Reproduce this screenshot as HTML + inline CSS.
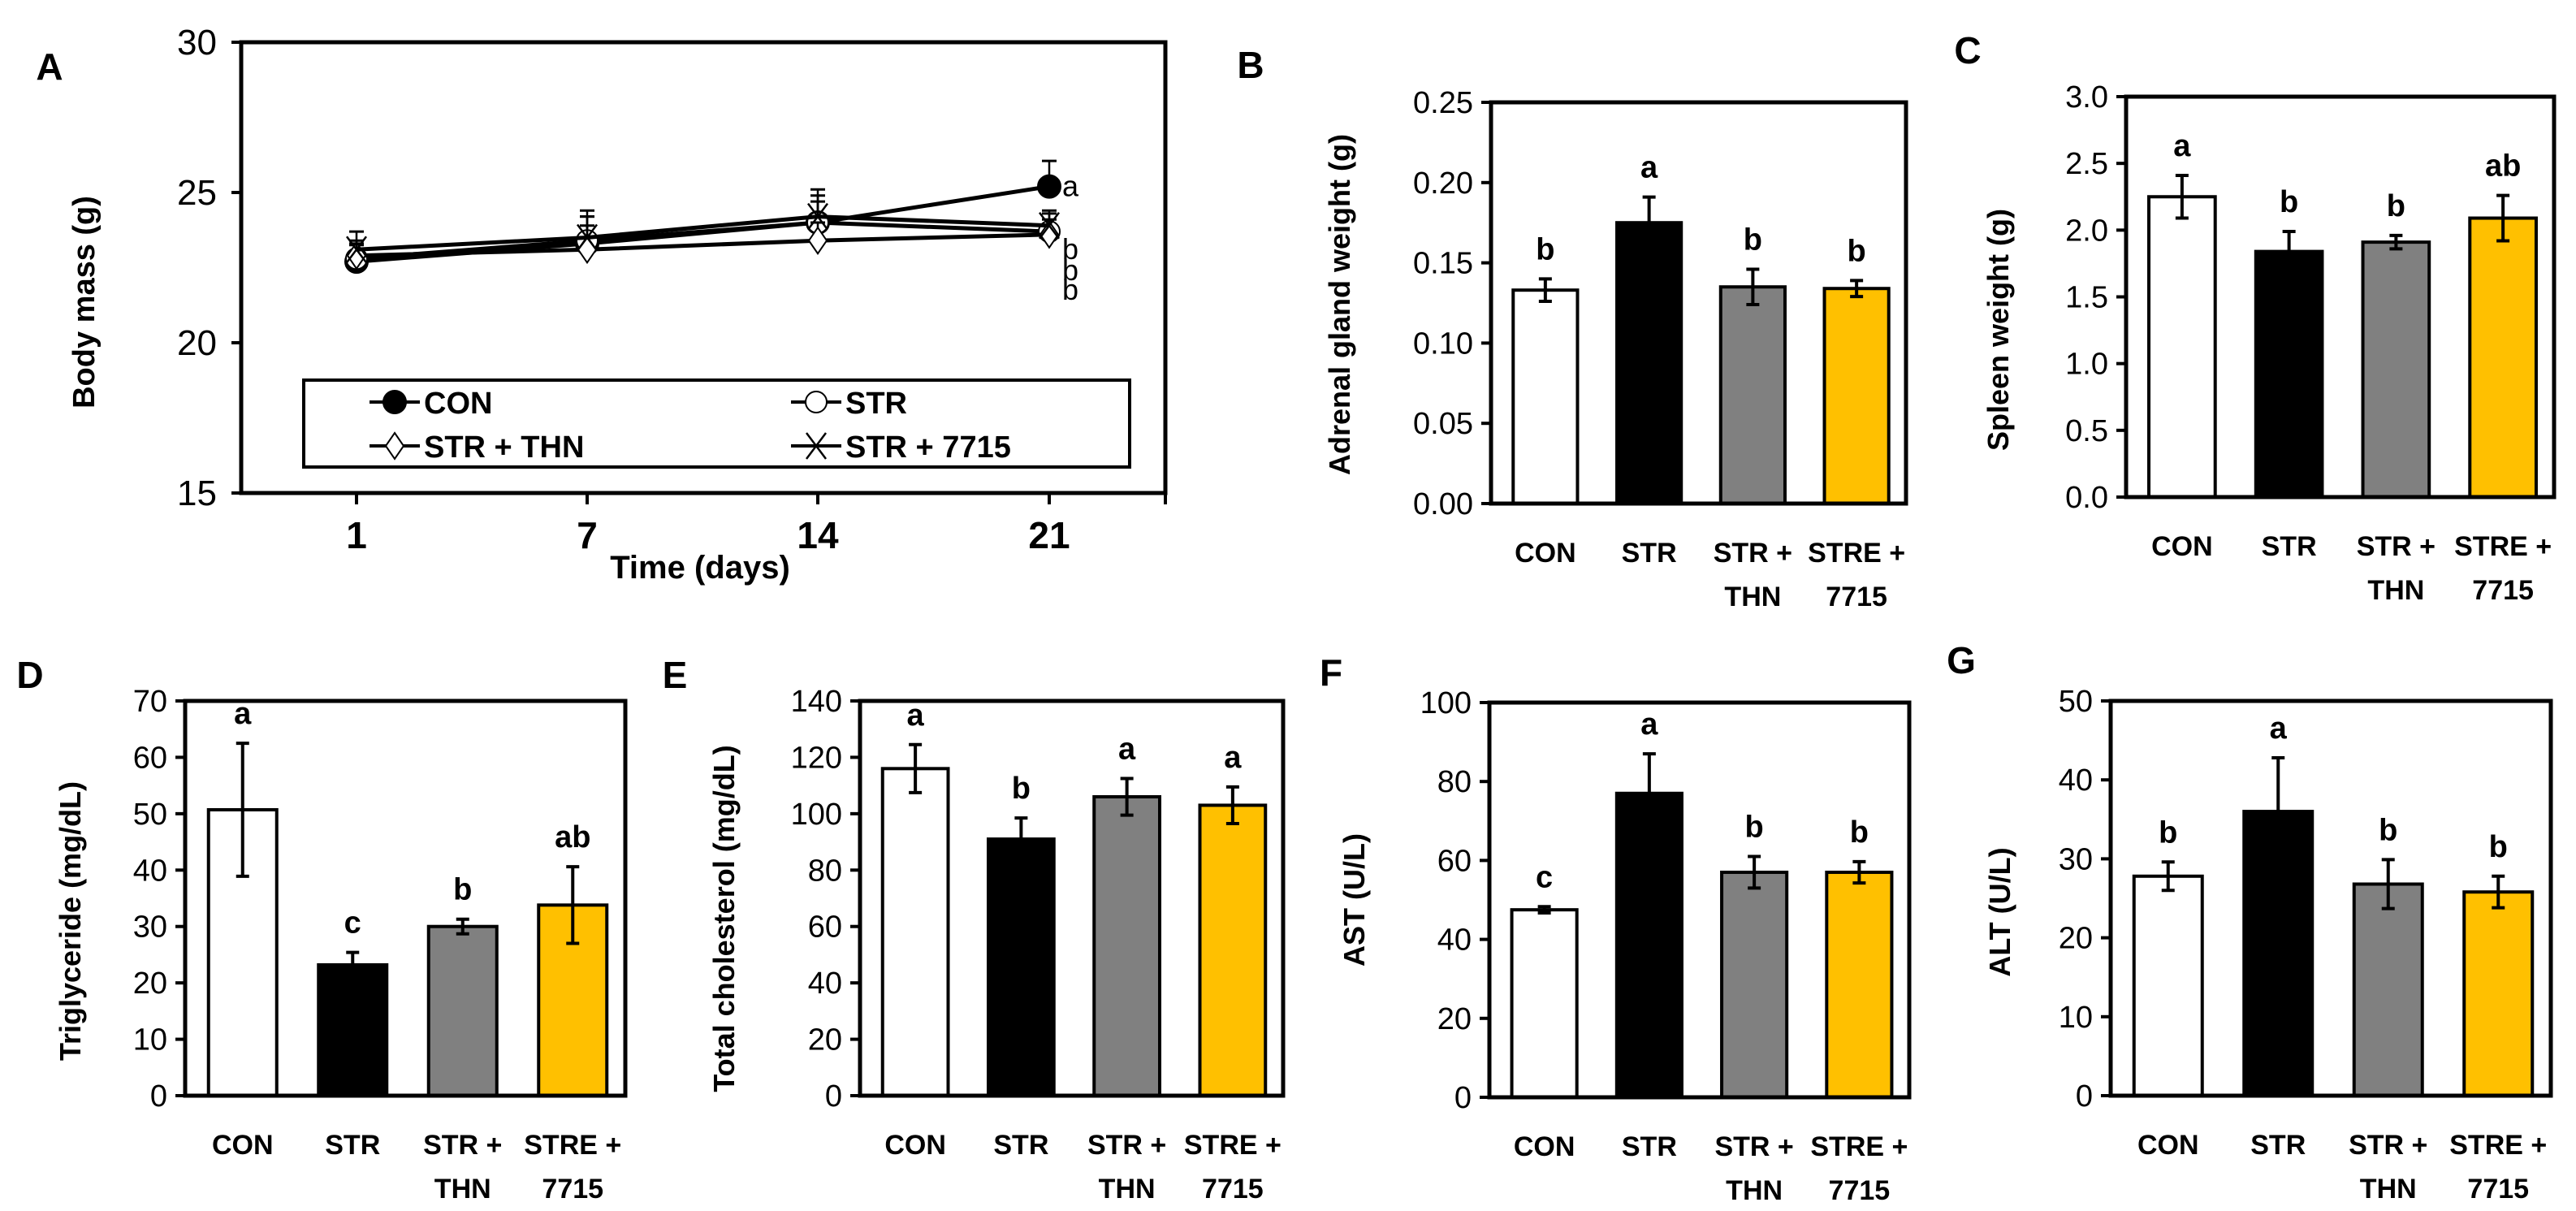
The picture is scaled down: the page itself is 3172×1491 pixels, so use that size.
<!DOCTYPE html>
<html><head><meta charset="utf-8">
<style>
html,body{margin:0;padding:0;background:#fff;}
svg{display:block;font-family:"Liberation Sans",Arial,sans-serif;}
</style></head>
<body>
<svg id="fig" width="3172" height="1491" viewBox="0 0 3172 1491" xmlns="http://www.w3.org/2000/svg"></svg>
<script>
// ---------- Panel A data ----------
const aDays = [1, 7, 14, 21];
const aTickLabels = ["15", "20", "25", "30"];
const aSeriesNames = ["CON", "STR", "STR + THN", "STR + 7715"];
const aCON = [22.7, 23.3, 24.0, 25.2];
const aSTR = [22.8, 23.4, 24.0, 23.7];
const aTHN = [22.9, 23.1, 23.4, 23.6];
const a7715 = [23.1, 23.5, 24.2, 23.9];
const aErrCON = [0.55, 0.9, 0.9, 0.85];
const aErrSTR = [0.5, 0.8, 0.7, 0.6];
const aErrTHN = [0.5, 0.8, 0.6, 0.5];
const aErr7715 = [0.6, 0.9, 0.9, 0.5];
const aLetters = ["a", "b", "b", "b"];

// ---------- Bar panel data ----------
const barCatsTop = ["CON", "STR", "STR +", "STRE +"];
const barCatsBottom = ["", "", "THN", "7715"];
const bValues = [0.133, 0.175, 0.135, 0.134];
const bErrors = [0.007, 0.016, 0.011, 0.005];
const bLetters = ["b", "a", "b", "b"];
const cValues = [2.25, 1.84, 1.91, 2.09];
const cErrors = [0.16, 0.15, 0.05, 0.17];
const cLetters = ["a", "b", "b", "ab"];
const dValues = [50.7, 23.2, 30.0, 33.8];
const dErrors = [11.8, 2.2, 1.3, 6.8];
const dLetters = ["a", "c", "b", "ab"];
const eValues = [116, 91, 106, 103];
const eErrors = [8.5, 7.5, 6.5, 6.5];
const eLetters = ["a", "b", "a", "a"];
const fValues = [47.5, 77, 57, 57];
const fErrors = [0.8, 10, 4, 2.7];
const fLetters = ["c", "a", "b", "b"];
const gValues = [27.8, 36, 26.8, 25.8];
const gErrors = [1.8, 6.8, 3.1, 2.0];
const gLetters = ["b", "a", "b", "b"];
const barFills = ["#ffffff", "#000000", "#808080", "#ffc000"];

const NS = "http://www.w3.org/2000/svg";
const fig = document.getElementById("fig");
function mk(tag, attrs, parent) {
  const e = document.createElementNS(NS, tag);
  for (const k in attrs) e.setAttribute(k, attrs[k]);
  (parent || fig).appendChild(e);
  return e;
}
function txt(str, x, y, size, weight, anchor, parent) {
  const t = mk("text", {x: x, y: y, "font-size": size, "font-weight": weight, "text-anchor": anchor, fill: "#000"}, parent);
  t.textContent = str;
  return t;
}

// ---------- Panel A ----------
(function () {
  const g = mk("g", {});
  
  
  const L = 297, R = 1435, T = 52, B = 607, ymin = 15, ymax = 30;
  const xPos = [439, 723, 1007, 1292];
  const ys = v => B - (v - ymin) / (ymax - ymin) * (B - T);
  const xs = i => xPos[i];
  const lbl = txt("A", 61, 98, 46, "bold", "middle", g);
  
  
  const box = mk("rect", {x: L, y: T, width: R - L, height: B - T, fill: "none", stroke: "#000", "stroke-width": 5}, g);
  
  
  aTickLabels.forEach((s, i) => {
    const v = ymin + i * 5, y = ys(v);
    mk("line", {x1: L - 12, x2: L, y1: y, y2: y, stroke: "#000", "stroke-width": 4}, g);
    const t = txt(s, L - 30, y + 15, 44, "normal", "end", g);
    
    
  });
  aDays.forEach((d, i) => {
    mk("line", {x1: xs(i), x2: xs(i), y1: B, y2: B + 14, stroke: "#000", "stroke-width": 4}, g);
    const t = txt(String(d), xs(i), B + 68, 46, "bold", "middle", g);
    
    
  });
  mk("line", {x1: R, x2: R, y1: B, y2: B + 14, stroke: "#000", "stroke-width": 4}, g);
  const xt = txt("Time (days)", 862, 712, 40, "bold", "middle", g);
  
  
  const yt = txt("Body mass (g)", 0, 0, 38, "bold", "middle", g);
  yt.setAttribute("transform", "translate(116,372) rotate(-90)");
  
  

  const series = [aCON, aSTR, aTHN, a7715];
  const errs = [aErrCON, aErrSTR, aErrTHN, aErr7715];
  function marker(kind, x, y, parent) {
    if (kind === 0) return mk("circle", {cx: x, cy: y, r: 14, fill: "#000", stroke: "#000", "stroke-width": 2}, parent);
    if (kind === 1) return mk("circle", {cx: x, cy: y, r: 13, fill: "#fff", stroke: "#000", "stroke-width": 2}, parent);
    if (kind === 2) return mk("polygon", {points: `${x},${y-16} ${x+11},${y} ${x},${y+16} ${x-11},${y}`, fill: "#fff", stroke: "#000", "stroke-width": 2}, parent);
    const m = mk("path", {d: `M${x-12} ${y-16}L${x+12} ${y+16}M${x+12} ${y-16}L${x-12} ${y+16}`, stroke: "#000", "stroke-width": 2.5, fill: "none"}, parent);
    return m;
  }
  series.forEach((vals, s) => {
    const sg = mk("g", {}, g);
    
    
    vals.forEach((v, i) => {
      const top = ys(v + errs[s][i]);
      mk("line", {x1: xs(i), x2: xs(i), y1: ys(v), y2: top, stroke: "#000", "stroke-width": 2.5}, sg);
      mk("line", {x1: xs(i) - 9, x2: xs(i) + 9, y1: top, y2: top, stroke: "#000", "stroke-width": 3}, sg);
    });
    const pts = vals.map((v, i) => xs(i) + "," + ys(v)).join(" ");
    const pl = mk("polyline", {points: pts, fill: "none", stroke: "#000", "stroke-width": 5}, sg);
    
    
    vals.forEach((v, i) => {
      const m = marker(s, xs(i), ys(v), sg);
      
      
    });
  });
  // letters at day 21
  const lastVals = [aCON[3], aSTR[3], aTHN[3], a7715[3]];
  const letterY = [ys(lastVals[0]) + 12, ys(Math.min(lastVals[1], lastVals[2], lastVals[3])) + 30, ys(Math.min(lastVals[1], lastVals[2], lastVals[3])) + 56, ys(Math.min(lastVals[1], lastVals[2], lastVals[3])) + 80];
  aLetters.forEach((l, i) => {
    const t = txt(l, 1318, letterY[i], 36, "normal", "middle", g);
    
    
  });
  // legend
  const lg = mk("g", {}, g);
  
  
  mk("rect", {x: 374, y: 468, width: 1017, height: 107, fill: "#fff", stroke: "#000", "stroke-width": 4}, lg);
  const lx = [486, 1005, 486, 1005], ly = [495, 495, 549, 549];
  aSeriesNames.forEach((n, i) => {
    const e = mk("g", {}, lg);
    
    
    mk("line", {x1: lx[i] - 31, x2: lx[i] + 31, y1: ly[i], y2: ly[i], stroke: "#000", "stroke-width": 4}, e);
    marker(i, lx[i], ly[i], e);
    txt(n, lx[i] + 36, ly[i] + 14, 38, "bold", "start", e);
  });
})();

// ---------- Bar panels ----------
function barPanel(o) {
  const g = mk("g", {});
  
  
  const ys = v => o.B - v / o.ymax * (o.B - o.T);
  const slot = (o.R - o.L) / 4, bw = slot * 0.62;
  const xc = i => o.L + slot * (i + 0.5) + 3;
  const pl = txt(o.letter, o.lx, o.ly, 46, "bold", "middle", g);
  
  
  const n = Math.round(o.ymax / o.step);
  for (let i = 0; i <= n; i++) {
    const v = i * o.step, y = ys(v);
    mk("line", {x1: o.L - 12, x2: o.L, y1: y, y2: y, stroke: "#000", "stroke-width": 4}, g);
    const t = txt(v.toFixed(o.dec), o.L - 22, y + 13, 38, "normal", "end", g);
    
    
  }
  o.values.forEach((v, i) => {
    const b = mk("rect", {x: xc(i) - bw / 2, y: ys(v), width: bw, height: o.B - ys(v), fill: barFills[i], stroke: "#000", "stroke-width": 4}, g);
    
    
    const e = o.errors[i], yt = ys(v + e), yb = ys(v - e);
    const eb = mk("path", {d: `M${xc(i)} ${yt}V${yb}M${xc(i)-8} ${yt}H${xc(i)+8}M${xc(i)-8} ${yb}H${xc(i)+8}`, stroke: "#000", "stroke-width": 4, fill: "none"}, g);
    
    
    const lt = txt(o.letters[i], xc(i), yt - 24, 38, "bold", "middle", g);
    
    
    const c1 = txt(barCatsTop[i], xc(i), o.B + 72, 34, "bold", "middle", g);
    
    
    if (barCatsBottom[i]) {
      const c2 = txt(barCatsBottom[i], xc(i), o.B + 126, 34, "bold", "middle", g);
      
      
    }
  });
  const fr = mk("rect", {x: o.L, y: o.T, width: o.R - o.L, height: o.B - o.T, fill: "none", stroke: "#000", "stroke-width": 5}, g);
  
  
  const yt = txt(o.ytitle, 0, 0, 36, "bold", "middle", g);
  yt.setAttribute("transform", `translate(${o.tx},${o.ty}) rotate(-90)`);
  
  
}
barPanel({name: "panel-b-adrenal", letter: "B", lx: 1540, ly: 96, L: 1836, R: 2347, T: 126, B: 620, ymax: 0.25, step: 0.05, dec: 2, values: bValues, errors: bErrors, letters: bLetters, ytitle: "Adrenal gland weight (g)", tx: 1662, ty: 375});
barPanel({name: "panel-c-spleen", letter: "C", lx: 2423, ly: 78, L: 2618, R: 3145, T: 119, B: 612, ymax: 3.0, step: 0.5, dec: 1, values: cValues, errors: cErrors, letters: cLetters, ytitle: "Spleen weight (g)", tx: 2473, ty: 406});
barPanel({name: "panel-d-triglyceride", letter: "D", lx: 37, ly: 847, L: 228, R: 770, T: 863, B: 1349, ymax: 70, step: 10, dec: 0, values: dValues, errors: dErrors, letters: dLetters, ytitle: "Triglyceride (mg/dL)", tx: 99, ty: 1134});
barPanel({name: "panel-e-cholesterol", letter: "E", lx: 831, ly: 847, L: 1059, R: 1580, T: 863, B: 1349, ymax: 140, step: 20, dec: 0, values: eValues, errors: eErrors, letters: eLetters, ytitle: "Total cholesterol (mg/dL)", tx: 904, ty: 1131});
barPanel({name: "panel-f-ast", letter: "F", lx: 1639, ly: 844, L: 1834, R: 2351, T: 865, B: 1351, ymax: 100, step: 20, dec: 0, values: fValues, errors: fErrors, letters: fLetters, ytitle: "AST (U/L)", tx: 1680, ty: 1108});
barPanel({name: "panel-g-alt", letter: "G", lx: 2415, ly: 829, L: 2599, R: 3141, T: 863, B: 1349, ymax: 50, step: 10, dec: 0, values: gValues, errors: gErrors, letters: gLetters, ytitle: "ALT (U/L)", tx: 2475, ty: 1123});
</script>
</body></html>
